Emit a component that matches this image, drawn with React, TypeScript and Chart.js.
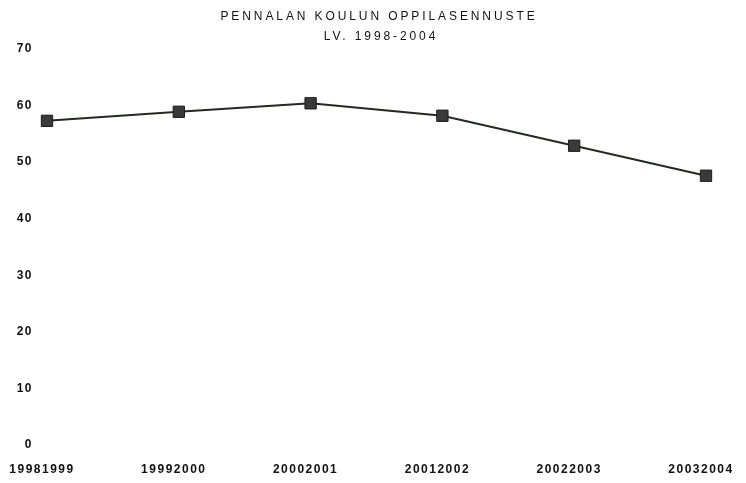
import React, { useEffect, useRef } from "react";
import { Chart, registerables } from "chart.js";

Chart.register(...registerables);

const TITLE = "PENNALAN KOULUN OPPILASENNUSTE";
const SUBTITLE = "LV. 1998-2004";
const categories = ["19981999", "19992000", "20002001", "20012002", "20022003", "20032004"];
const pupils = [57.3, 58.9, 60.4, 58.2, 52.9, 47.6];
const yTicks = [0, 10, 20, 30, 40, 50, 60, 70];

const titlePlugin = {
  id: "titles",
  beforeDraw(chart: any) {
    const ctx = chart.ctx;
    ctx.save();
    ctx.fillStyle = "#ffffff";
    ctx.fillRect(0, 0, chart.width, chart.height);
    ctx.restore();
    ctx.letterSpacing = "1.5px";
  },
  afterDraw(chart: any) {
    const ctx = chart.ctx;
    ctx.save();
    ctx.fillStyle = "#111";
    ctx.textAlign = "center";
    ctx.textBaseline = "middle";
    ctx.font = "12px 'Liberation Sans', Arial, sans-serif";
    (ctx as any).letterSpacing = "2.9px";
    ctx.fillText(TITLE, 379, 17);
    ctx.fillText(SUBTITLE, 381, 37);
    ctx.restore();
  },
};

export default function App() {
  const ref = useRef<HTMLCanvasElement>(null);
  useEffect(() => {
    if (!ref.current) return;
    const chart = new Chart(ref.current, {
      type: "line",
      data: {
        labels: categories,
        datasets: [
          {
            data: pupils,
            borderColor: "#222a22",
            borderWidth: 2,
            pointStyle: "rect",
            pointRadius: 8,
            pointBackgroundColor: "#3a3a3a",
            pointBorderColor: "#1a1a1a",
            pointBorderWidth: 1,
            tension: 0,
          },
        ],
      },
      options: {
        animation: false,
        responsive: false,
        maintainAspectRatio: false,
        layout: { padding: { top: 49, right: 40, left: 0, bottom: 0 } },
        plugins: { legend: { display: false }, tooltip: { enabled: false }, title: { display: false } },
        scales: {
          x: {
            offset: false,
            grid: { display: false, drawTicks: false },
            border: { display: false },
            ticks: {
              color: "#111",
              font: { size: 12, weight: "bold", family: "'Liberation Sans', Arial, sans-serif" },
              padding: 17,
              labelOffset: -5,
              maxRotation: 0,
              autoSkip: false,
            },
            afterFit(s: any) {
              s.height = 38;
              s.paddingLeft = 0;
              s.paddingRight = 0;
            },
          },
          y: {
            min: 0,
            max: 70,
            afterBuildTicks(s: any) {
              s.ticks = yTicks.map((v) => ({ value: v }));
            },
            grid: { display: false, drawTicks: false },
            border: { display: false },
            ticks: {
              color: "#111",
              font: { size: 12, weight: "bold", family: "'Liberation Sans', Arial, sans-serif" },
              padding: 14,
            },
            afterFit(s: any) {
              s.width = 47;
              s.paddingTop = 0;
              s.paddingBottom = 0;
            },
          },
        },
      },
      plugins: [titlePlugin],
    });
    return () => chart.destroy();
  }, []);
  return (
    <div style={{ position: "fixed", left: 0, top: 0, width: 746, height: 483, background: "#fff" }}>
      <canvas ref={ref} width={746} height={483} style={{ width: 746, height: 483, display: "block" }} />
    </div>
  );
}
